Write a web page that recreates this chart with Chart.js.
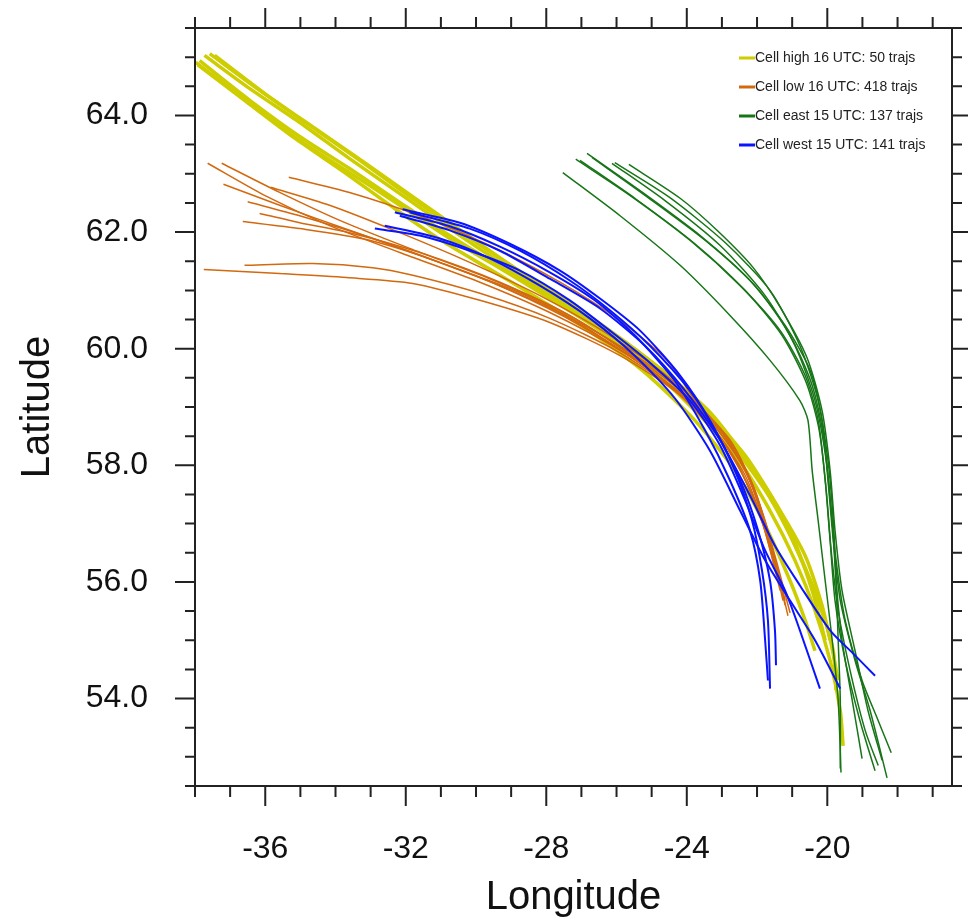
<!DOCTYPE html>
<html>
<head>
<meta charset="utf-8">
<script src="https://cdn.jsdelivr.net/npm/chart.js@4.4.0/dist/chart.umd.min.js"></script>
<style>
  html, body { margin: 0; padding: 0; background: #fff; }
  canvas { display: block; }
</style>
</head>
<body>
<canvas id="trajChart" width="968" height="924"></canvas>
<script>
// trajectories as [lon, lat] pairs

// Cell high 16 UTC (yellow)
const high1 = [[-37.98,64.91],[-36.44,64.21],[-35.02,63.57],[-33.60,63.02],[-32.17,62.46],[-30.75,61.89],[-29.32,61.38],[-27.90,60.86],[-26.47,60.31],[-25.05,59.66],[-23.62,58.85],[-22.48,58.05],[-21.63,57.22],[-20.92,56.37],[-20.35,55.51],[-19.92,54.65],[-19.63,53.79],[-19.55,53.19]];
const high2 = [[-37.87,64.94],[-36.44,64.26],[-35.02,63.64],[-33.60,63.09],[-32.17,62.51],[-30.75,61.94],[-29.32,61.41],[-27.90,60.90],[-26.47,60.35],[-25.05,59.73],[-23.62,58.94],[-22.48,58.17],[-21.49,57.31],[-20.78,56.45],[-20.21,55.60],[-19.83,54.82],[-19.75,54.14]];
const high3 = [[-37.73,65.03],[-36.44,64.46],[-35.02,63.88],[-33.60,63.26],[-32.17,62.66],[-30.75,62.06],[-29.32,61.48],[-27.90,60.93],[-26.47,60.38],[-25.05,59.76],[-23.62,59.03],[-22.34,58.17],[-21.34,57.22],[-20.63,56.45],[-20.15,55.60],[-19.92,55.00]];
const high4 = [[-37.58,65.06],[-36.16,64.43],[-34.74,63.83],[-33.31,63.23],[-31.89,62.61],[-30.46,62.01],[-29.04,61.44],[-27.61,60.88],[-26.19,60.31],[-24.76,59.66],[-23.34,58.91],[-22.20,58.00],[-21.20,56.97],[-20.49,56.02],[-19.98,55.17],[-19.69,54.31]];
const high5 = [[-37.44,65.03],[-36.02,64.38],[-34.59,63.78],[-33.17,63.19],[-31.74,62.58],[-30.32,61.98],[-28.89,61.38],[-27.47,60.83],[-26.05,60.23],[-24.62,59.59],[-23.20,58.77],[-21.91,57.77],[-21.06,56.88],[-20.43,55.85],[-20.06,55.00]];
const high6 = [[-37.92,64.87],[-36.59,64.26],[-35.16,63.61],[-33.74,63.02],[-32.31,62.40],[-30.89,61.82],[-29.46,61.31],[-28.04,60.79],[-26.62,60.24],[-25.19,59.59],[-23.77,58.77],[-22.63,57.91],[-21.77,56.97],[-21.06,56.02],[-20.63,55.34],[-20.35,54.82]];

// Cell low 16 UTC (orange)
const low1 = [[-37.64,63.18],[-36.02,62.63],[-34.17,62.11],[-32.17,61.65],[-29.89,61.14],[-27.90,60.62],[-25.90,59.97],[-24.19,59.25],[-23.05,58.60],[-22.20,57.74],[-21.63,56.71],[-21.20,55.68]];
const low2 = [[-37.24,63.18],[-35.59,62.68],[-33.88,62.20],[-31.89,61.72],[-29.61,61.20],[-27.61,60.66],[-25.62,59.92],[-23.91,59.15],[-22.77,58.43],[-22.06,57.57],[-21.49,56.45],[-21.06,55.47]];
const low3 = [[-37.19,62.82],[-35.59,62.46],[-33.60,62.03],[-31.60,61.60],[-29.32,61.08],[-27.33,60.52],[-25.33,59.76],[-23.62,58.94],[-22.48,58.08],[-21.77,57.05],[-21.29,55.85]];
const low4 = [[-36.50,62.52],[-35.02,62.28],[-33.03,61.91],[-31.03,61.48],[-28.75,60.96],[-26.76,60.35],[-24.76,59.59],[-23.34,58.77],[-22.34,57.91],[-21.63,56.71],[-21.20,55.60]];
const low5 = [[-35.85,62.77],[-34.17,62.46],[-32.17,61.99],[-30.18,61.48],[-28.18,60.91],[-26.19,60.23],[-24.48,59.49],[-23.05,58.63],[-22.20,57.74],[-21.57,56.54]];
const low6 = [[-35.33,62.94],[-33.60,62.68],[-31.60,62.28],[-29.61,61.77],[-27.61,61.14],[-25.90,60.48],[-24.56,59.80],[-23.62,58.99],[-22.77,58.43],[-22.06,57.57],[-21.49,56.37],[-21.12,55.42]];
const low7 = [[-36.64,62.18],[-35.02,62.06],[-33.03,61.86],[-31.03,61.48],[-29.04,61.00],[-27.04,60.40],[-25.05,59.63],[-23.48,58.80],[-22.34,57.83],[-21.63,56.62],[-21.26,55.68]];
const low8 = [[-37.75,61.36],[-35.59,61.29],[-33.68,61.22],[-31.80,61.12],[-29.89,60.83],[-27.90,60.45],[-25.90,59.88],[-24.19,59.20],[-22.91,58.34],[-22.06,57.40],[-21.49,56.28]];
const low9 = [[-36.59,61.43],[-34.65,61.46],[-32.94,61.39],[-31.80,61.26],[-29.89,60.95],[-27.90,60.52],[-25.90,59.93],[-24.05,59.15],[-22.77,58.25],[-21.91,57.14],[-21.34,55.85]];
const low10 = [[-36.16,62.32],[-35.02,62.16],[-33.60,61.99],[-31.60,61.65],[-29.32,61.14],[-27.19,60.52],[-25.19,59.71],[-23.62,58.91],[-22.54,58.00],[-21.77,56.88],[-21.34,56.02]];

// Cell east 15 UTC (green)
const east1 = [[-27.53,63.02],[-25.90,62.28],[-24.19,61.43],[-22.77,60.57],[-21.63,59.80],[-20.78,59.11],[-20.55,58.77],[-20.43,57.91],[-20.26,57.05],[-20.06,56.02],[-19.86,55.00],[-19.69,53.97],[-19.61,52.73]];
const east2 = [[-27.16,63.25],[-25.62,62.63],[-23.91,61.86],[-22.48,61.08],[-21.34,60.31],[-20.63,59.54],[-20.26,58.77],[-20.06,57.74],[-19.92,56.71],[-19.78,55.68],[-19.49,54.65],[-19.07,53.62],[-18.64,52.76]];
const east3 = [[-26.84,63.35],[-25.33,62.71],[-23.62,61.94],[-22.20,61.17],[-21.20,60.40],[-20.49,59.63],[-20.15,58.77],[-19.98,57.74],[-19.83,56.71],[-19.63,55.68],[-19.21,54.65],[-18.78,53.79],[-18.30,52.64]];
const east4 = [[-26.70,63.28],[-25.19,62.63],[-23.48,61.86],[-22.06,61.08],[-21.06,60.23],[-20.43,59.37],[-20.09,58.43],[-19.92,57.40],[-19.75,56.37],[-19.49,55.34],[-19.01,54.31],[-18.55,53.62],[-18.18,53.07]];
const east5 = [[-26.13,63.18],[-24.62,62.54],[-23.05,61.77],[-21.77,60.91],[-20.92,60.05],[-20.35,59.11],[-20.03,58.08],[-19.86,57.05],[-19.75,56.02],[-19.58,55.00],[-19.29,53.97],[-19.01,52.97]];
const east6 = [[-26.05,63.19],[-24.48,62.59],[-22.91,61.82],[-21.63,61.00],[-20.78,60.05],[-20.26,59.11],[-19.98,58.08],[-19.83,57.05],[-19.75,56.02],[-19.69,55.00],[-19.63,53.97],[-19.63,52.80]];
const east7 = [[-25.65,63.16],[-24.19,62.58],[-23.14,62.03],[-22.11,61.39],[-21.34,60.71],[-20.58,59.85],[-20.15,58.94],[-19.92,57.91],[-19.78,56.88],[-19.58,55.85],[-19.21,54.82],[-18.84,53.79],[-18.44,52.94]];
const east8 = [[-27.04,63.23],[-25.48,62.58],[-23.77,61.80],[-22.34,61.00],[-21.29,60.23],[-20.60,59.42],[-20.23,58.60],[-20.03,57.57],[-19.89,56.54],[-19.69,55.51],[-19.35,54.48],[-18.92,53.45],[-18.55,52.85]];

// Cell west 15 UTC (blue)
const west1 = [[-32.09,62.39],[-30.46,62.16],[-29.04,61.80],[-27.61,61.34],[-26.47,60.86],[-25.33,60.31],[-24.19,59.54],[-23.34,58.77],[-22.63,57.91],[-22.14,57.05],[-21.86,56.20],[-21.69,55.34],[-21.63,54.17]];
const west2 = [[-31.89,62.34],[-30.18,62.06],[-28.75,61.68],[-27.33,61.17],[-26.19,60.66],[-25.05,60.05],[-23.91,59.28],[-23.20,58.60],[-22.48,57.74],[-21.97,56.88],[-21.63,56.02],[-21.49,55.17],[-21.46,54.57]];
const west3 = [[-32.88,62.06],[-31.60,61.94],[-30.18,61.68],[-28.75,61.34],[-27.33,60.83],[-26.19,60.31],[-25.05,59.76],[-23.91,59.11],[-23.05,58.34],[-22.34,57.40],[-21.77,56.54],[-21.20,55.85],[-20.78,55.17],[-20.21,54.17]];
const west4 = [[-32.17,62.28],[-30.75,62.03],[-29.32,61.68],[-27.90,61.20],[-26.47,60.69],[-25.19,60.05],[-24.05,59.28],[-23.05,58.43],[-22.20,57.48],[-21.49,56.62],[-20.78,55.94],[-19.92,55.17],[-19.21,54.74],[-18.64,54.39]];
const west5 = [[-32.60,62.11],[-31.03,61.89],[-29.61,61.55],[-28.18,61.08],[-26.76,60.52],[-25.48,59.88],[-24.34,59.15],[-23.34,58.25],[-22.48,57.22],[-21.77,56.37],[-21.06,55.68],[-20.35,55.00],[-19.63,54.17]];
const west6 = [[-32.31,62.34],[-30.75,62.10],[-29.32,61.75],[-27.90,61.31],[-26.62,60.83],[-25.48,60.23],[-24.34,59.45],[-23.48,58.60],[-22.77,57.74],[-22.20,56.88],[-21.91,56.02],[-21.77,55.00],[-21.69,54.31]];

const highTrajs = [high1, high2, high3, high4, high5, high6];
const lowTrajs = [low1, low2, low3, low4, low5, low6, low7, low8, low9, low10];
const eastTrajs = [east1, east2, east3, east4, east5, east6, east7, east8];
const westTrajs = [west1, west2, west3, west4, west5, west6];

const legendLabels = ['Cell high 16 UTC: 50 trajs', 'Cell low 16 UTC: 418 trajs', 'Cell east 15 UTC: 137 trajs', 'Cell west 15 UTC: 141 trajs'];
const groupColors = ['#cdcd00', '#d2690f', '#177517', '#0a14ff'];

const xMin = -38, xMax = -16.45;
const yMin = 52.5, yMax = 65.5;
const FONT = '"Liberation Sans", Arial, Helvetica, sans-serif';

const groups = [
  {trajs: highTrajs, width: 3.5, order: 4},
  {trajs: lowTrajs, width: 1.5, order: 3},
  {trajs: eastTrajs, width: 1.5, order: 2},
  {trajs: westTrajs, width: 2, order: 1}
];

const datasets = [];
groups.forEach(function(g, gi) {
  g.trajs.forEach(function(tr) {
    datasets.push({
      data: tr.map(p => ({x: p[0], y: p[1]})),
      showLine: true,
      borderColor: groupColors[gi],
      borderWidth: g.width,
      pointRadius: 0,
      tension: 0.25,
      fill: false,
      order: g.order
    });
  });
});

// box frame with outward major/minor ticks on all four sides
const frameTicks = {
  id: 'frameTicks',
  afterDraw(chart) {
    const {ctx, chartArea: a, scales: {x, y}} = chart;
    ctx.save();
    ctx.strokeStyle = '#222';
    ctx.lineWidth = 2;
    ctx.beginPath();
    x.ticks.forEach(function(t) {
      const px = x.getPixelForValue(t.value);
      const len = Math.abs(t.value % 4) < 1e-6 ? 20 : 11;
      ctx.moveTo(px, a.bottom); ctx.lineTo(px, a.bottom + len);
      ctx.moveTo(px, a.top); ctx.lineTo(px, a.top - len);
    });
    y.ticks.forEach(function(t) {
      const py = y.getPixelForValue(t.value);
      const len = Math.abs(t.value % 2) < 1e-6 ? 20 : 10;
      ctx.moveTo(a.left, py); ctx.lineTo(a.left - len, py);
      ctx.moveTo(a.right, py); ctx.lineTo(a.right + len, py);
    });
    ctx.stroke();
    ctx.strokeRect(a.left, a.top, a.right - a.left, a.bottom - a.top);
    ctx.restore();
  }
};

// legend in the top right corner of the plot
const trajLegend = {
  id: 'trajLegend',
  afterDraw(chart) {
    const ctx = chart.ctx;
    ctx.save();
    ctx.font = '14px ' + FONT;
    ctx.textBaseline = 'middle';
    ctx.fillStyle = '#222';
    legendLabels.forEach(function(lbl, i) {
      const yy = 58 + i * 29;
      ctx.strokeStyle = groupColors[i];
      ctx.lineWidth = 3;
      ctx.beginPath();
      ctx.moveTo(739, yy); ctx.lineTo(755, yy);
      ctx.stroke();
      ctx.fillText(lbl, 755, yy);
    });
    ctx.restore();
  }
};

const chart = new Chart(document.getElementById('trajChart'), {
  type: 'scatter',
  data: {datasets: datasets},
  options: {
    responsive: false,
    animation: false,
    devicePixelRatio: 1,
    events: [],
    layout: {padding: {left: 0, right: 16, top: 28, bottom: 0}},
    plugins: {legend: {display: false}, tooltip: {enabled: false}},
    scales: {
      x: {
        type: 'linear',
        min: xMin, max: xMax,
        grid: {display: false, drawTicks: false},
        border: {display: false},
        ticks: {
          stepSize: 1, autoSkip: false, maxRotation: 0, includeBounds: false,
          padding: 44, color: '#111',
          font: {family: FONT, size: 32},
          callback: v => Math.abs(v % 4) < 1e-6 ? String(v) : ''
        },
        title: {display: true, text: 'Longitude', color: '#111',
          font: {family: FONT, size: 40}, padding: {top: 0, bottom: 2}},
        afterFit: s => { s.height = 138; s.paddingLeft = 0; s.paddingRight = 0; }
      },
      y: {
        type: 'linear',
        min: yMin, max: yMax,
        grid: {display: false, drawTicks: false},
        border: {display: false},
        ticks: {
          stepSize: 0.5, autoSkip: false, includeBounds: false,
          padding: 47, color: '#111',
          font: {family: FONT, size: 32},
          callback: v => Math.abs(v % 2) < 1e-6 ? v.toFixed(1) : ''
        },
        title: {display: true, text: 'Latitude', color: '#111',
          font: {family: FONT, size: 40}, padding: {top: 14, bottom: 0}},
        afterFit: s => { s.width = 195; s.paddingTop = 0; s.paddingBottom = 0; }
      }
    }
  },
  plugins: [frameTicks, trajLegend]
});
</script>
</body>
</html>
